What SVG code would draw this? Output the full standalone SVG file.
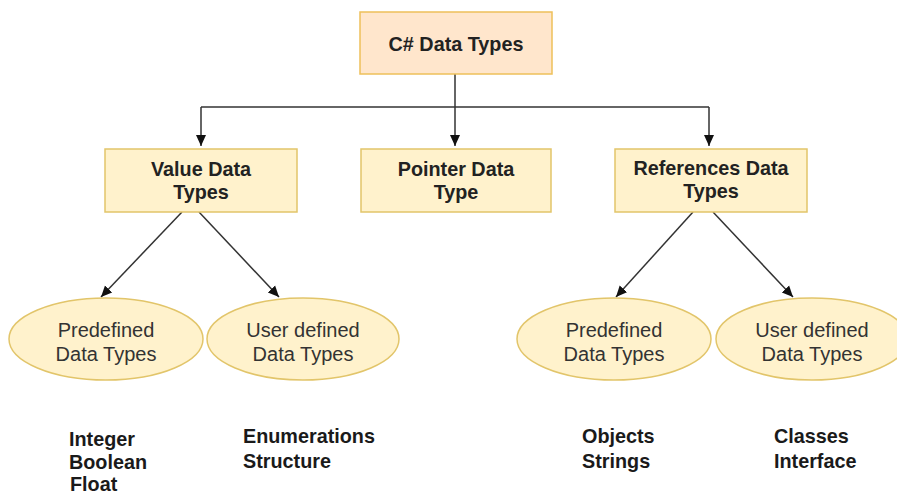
<svg xmlns="http://www.w3.org/2000/svg" width="897" height="495" viewBox="0 0 897 495">
<style>
.box{fill:#fff2cc;stroke:#e2c56a;stroke-width:1.5}
.top{fill:#ffe6cc;stroke:#eec05a;stroke-width:1.5}
.ell{fill:#fff2cc;stroke:#e2c56a;stroke-width:1.5}
.bt{font-family:"Liberation Sans",Arial,sans-serif;font-weight:bold;font-size:19.8px;fill:#222;text-anchor:middle}
.et{font-family:"Liberation Sans",Arial,sans-serif;font-size:20px;fill:#333;text-anchor:middle}
.lt{font-family:"Liberation Sans",Arial,sans-serif;font-weight:bold;font-size:19.8px;fill:#1a1a1a}
.c{fill:none;stroke:#333;stroke-width:1.5}
</style>
<defs>
<marker id="ah" markerUnits="userSpaceOnUse" markerWidth="12" markerHeight="12" viewBox="0 0 12 12" refX="11" refY="6" orient="auto">
<path d="M0,1 L11,6 L0,11 Z" fill="#111"/>
</marker>
</defs>
<g id="connectors">
<path class="c" d="M455,74 V146" marker-end="url(#ah)"/>
<path class="c" d="M201,107 H709"/>
<path class="c" d="M201,107 V146" marker-end="url(#ah)"/>
<path class="c" d="M709,107 V146" marker-end="url(#ah)"/>
<path class="c" d="M182,212 L101,297" marker-end="url(#ah)"/>
<path class="c" d="M199,212 L279,297" marker-end="url(#ah)"/>
<path class="c" d="M693,212 L616,297" marker-end="url(#ah)"/>
<path class="c" d="M713,212 L793,297" marker-end="url(#ah)"/>
</g>
<g id="root">
<rect class="top" x="360" y="12" width="192" height="62"/>
<text class="bt" x="456" y="51">C# Data Types</text>
</g>
<g id="value">
<rect class="box" x="105" y="149" width="192" height="63"/>
<text class="bt" x="201" y="176">Value Data</text>
<text class="bt" x="201" y="199">Types</text>
</g>
<g id="pointer">
<rect class="box" x="361" y="149" width="190" height="63"/>
<text class="bt" x="456" y="176">Pointer Data</text>
<text class="bt" x="456" y="199">Type</text>
</g>
<g id="references">
<rect class="box" x="615" y="149" width="192" height="63"/>
<text class="bt" x="711" y="175">References Data</text>
<text class="bt" x="711" y="198">Types</text>
</g>
<g id="vpre">
<ellipse class="ell" cx="106" cy="339" rx="97" ry="41"/>
<text class="et" x="106" y="337">Predefined</text>
<text class="et" x="106" y="361">Data Types</text>
</g>
<g id="vuser">
<ellipse class="ell" cx="303" cy="339" rx="96" ry="41"/>
<text class="et" x="303" y="337">User defined</text>
<text class="et" x="303" y="361">Data Types</text>
</g>
<g id="rpre">
<ellipse class="ell" cx="614" cy="339" rx="97" ry="41"/>
<text class="et" x="614" y="337">Predefined</text>
<text class="et" x="614" y="361">Data Types</text>
</g>
<g id="ruser">
<ellipse class="ell" cx="812" cy="339" rx="96" ry="41"/>
<text class="et" x="812" y="337">User defined</text>
<text class="et" x="812" y="361">Data Types</text>
</g>
<g id="labels">
<text class="lt" x="69" y="446">Integer</text>
<text class="lt" x="69" y="469">Boolean</text>
<text class="lt" x="70" y="491">Float</text>
<text class="lt" x="243" y="443">Enumerations</text>
<text class="lt" x="243" y="468">Structure</text>
<text class="lt" x="582" y="443">Objects</text>
<text class="lt" x="582" y="468">Strings</text>
<text class="lt" x="774" y="443">Classes</text>
<text class="lt" x="774" y="468">Interface</text>
</g>
</svg>
